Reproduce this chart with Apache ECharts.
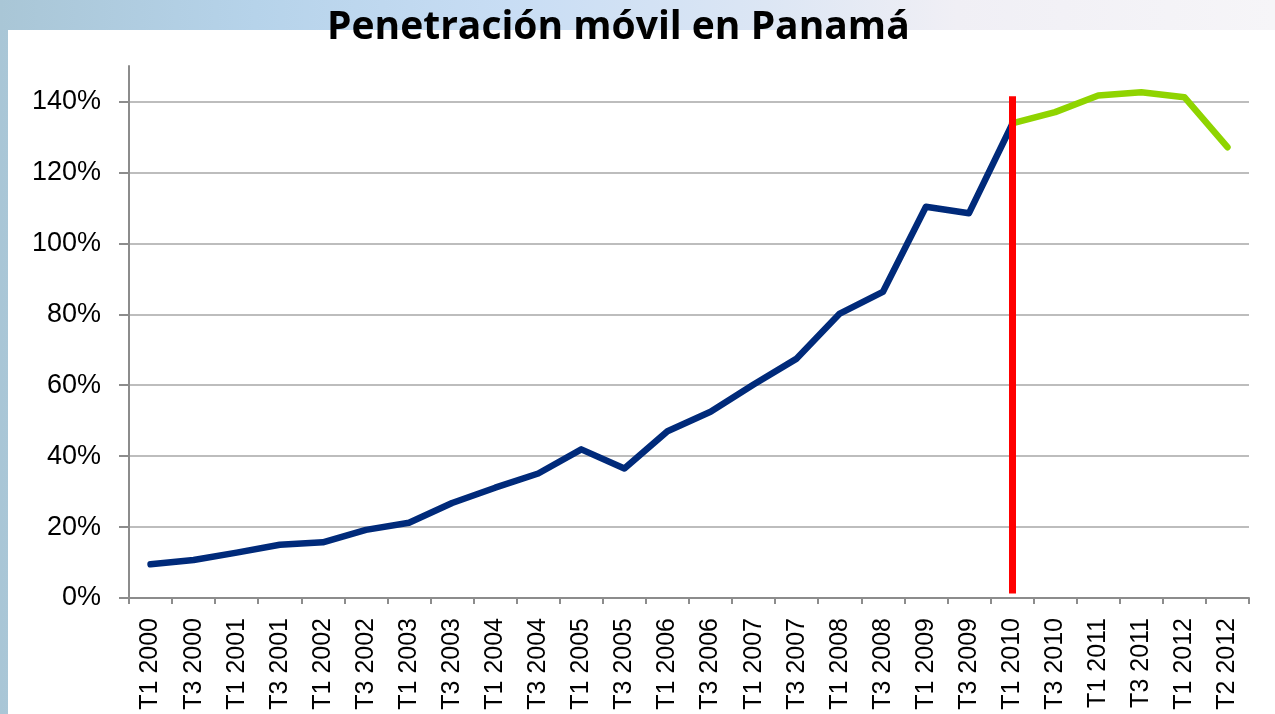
<!DOCTYPE html>
<html>
<head>
<meta charset="utf-8">
<script src="https://cdn.jsdelivr.net/npm/echarts@6/dist/echarts.min.js"></script>
<style>
  html, body { margin: 0; padding: 0; }
  body {
    width: 1275px; height: 714px; position: relative; overflow: hidden;
    background: linear-gradient(90deg, #a9c6d6 0%, #b6d3ea 20%, #c8ddf4 40%, #dce6f4 60%, #f0eff5 75%, #f6f5f8 100%);
  }
  #paper { position: absolute; left: 8px; top: 30px; right: 0; bottom: 0; background: #fff; }
  #chart { position: absolute; left: 0; top: 0; width: 1275px; height: 714px; }
</style>
</head>
<body>
<div id="paper"></div>
<div id="chart"></div>
<script>
// trimestres
var categorias = ['T1 2000', 'T3 2000', 'T1 2001', 'T3 2001', 'T1 2002', 'T3 2002', 'T1 2003', 'T3 2003',
	'T1 2004', 'T3 2004', 'T1 2005', 'T3 2005', 'T1 2006', 'T3 2006', 'T1 2007', 'T3 2007',
	'T1 2008', 'T3 2008', 'T1 2009', 'T3 2009', 'T1 2010', 'T3 2010', 'T1 2011', 'T3 2011',
	'T1 2012', 'T2 2012'];

// penetracion (%) hasta T1 2010
var historico = [9.5, 10.7, 12.8, 15.0, 15.7, 19.2, 21.2, 26.8, 31.1, 35.1, 41.9, 36.5, 47.0, 52.5,
	60.2, 67.5, 80.2, 86.3, 110.3, 108.5, 133.5, null, null, null, null, null];

// penetracion (%) desde T1 2010
var reciente = [null, null, null, null, null, null, null, null, null, null, null, null, null, null,
	null, null, null, null, null, null, 133.8, 137.0, 141.7, 142.6, 141.2, 127.1];

var ticksY = [0, 20, 40, 60, 80, 100, 120, 140];

var gris = '#8c8c8c';
var chart = echarts.init(document.getElementById('chart'));
chart.setOption({
	animation: false,
	backgroundColor: 'transparent',
	title: {
		text: 'Penetración móvil en Panamá',
		left: 322,
		top: 3,
		textStyle: {
			fontFamily: 'Open Sans',
			fontWeight: 'bold',
			fontSize: 39,
			color: '#000'
		}
	},
	grid: {
		left: 129,
		right: 26,
		top: 66,
		bottom: 116
	},
	xAxis: {
		type: 'category',
		data: categorias,
		boundaryGap: true,
		axisLine: { lineStyle: { color: gris, width: 2 } },
		axisTick: { show: true, interval: 0, length: 6, lineStyle: { color: gris, width: 2 } },
		axisLabel: {
			interval: 0,
			rotate: 90,
			margin: 20,
			fontFamily: 'Liberation Sans',
			fontSize: 25,
			color: '#000'
		}
	},
	yAxis: {
		type: 'value',
		min: 0,
		max: 150,
		interval: 20,
		axisLine: { show: true, lineStyle: { color: gris, width: 2 } },
		axisTick: { show: true, length: 10, customValues: ticksY, lineStyle: { color: gris, width: 2 } },
		axisLabel: {
			customValues: ticksY,
			margin: 28,
			fontFamily: 'Liberation Sans',
			fontSize: 27,
			color: '#000',
			formatter: '{value}%'
		},
		splitLine: {
			show: true,
			lineStyle: {
				color: ['#bdbdbd', '#bdbdbd', '#bdbdbd', '#bdbdbd', '#bdbdbd', '#bdbdbd', '#bdbdbd', '#bdbdbd', 'transparent'],
				width: 2
			}
		}
	},
	series: [{
		name: 'Histórico',
		type: 'line',
		data: historico,
		symbol: 'none',
		lineStyle: { color: '#002a7a', width: 6.5, cap: 'round', join: 'round' },
		markLine: {
			silent: true,
			symbol: 'none',
			label: { show: false },
			lineStyle: { color: '#ff0000', width: 7, type: 'solid' },
			data: [[{ coord: ['T1 2010', 1.3] }, { coord: ['T1 2010', 141.5] }]]
		},
		z: 3
	}, {
		name: 'Reciente',
		type: 'line',
		data: reciente,
		symbol: 'none',
		lineStyle: { color: '#8fd400', width: 6.5, cap: 'round', join: 'round' },
		z: 2
	}]
});
</script>
</body>
</html>
